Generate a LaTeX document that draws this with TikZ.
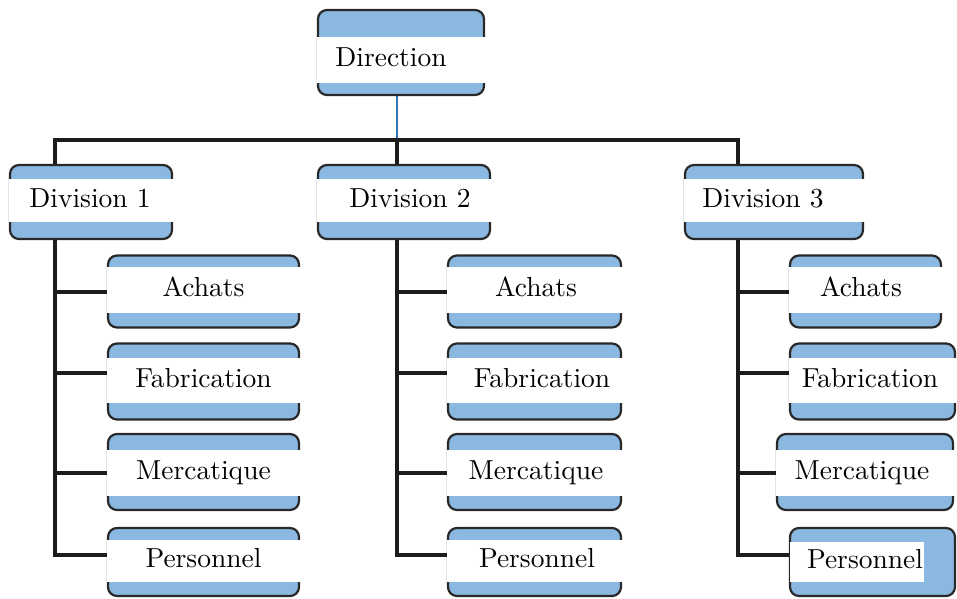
\documentclass[tikz,border=0pt]{standalone}
\pgfdeclarelayer{bg}
\pgfsetlayers{bg,main}

\definecolor{unitblue}{RGB}{138,184,224}
\definecolor{unitedge}{RGB}{40,40,40}
\definecolor{linkblue}{RGB}{46,117,182}
\definecolor{linkdark}{RGB}{28,28,28}

\tikzset{
  unitbox/.style={draw=unitedge, line width=2.2pt, fill=unitblue,
    rounded corners=9pt, inner sep=0pt},
  unitband/.style={fill=white, inner sep=0pt},
  unitlabel/.style={font=\fontsize{10}{12}\selectfont, scale=2.75, inner sep=0pt,
    text height=6.5pt, text depth=1.5pt},
  link/.style={draw=linkdark, line width=4pt},
  toplink/.style={draw=linkblue, line width=1.6pt},
}

% #1 name, #2 #3 box centre, #4 width, #5 height,
% #6 band centre y, #7 band height, #8 label centre x, #9 label
\newcommand\orgbox[9]{%
  \node[unitbox, minimum width=#4, minimum height=#5] (#1) at (#2,#3) {};
  \node[unitband, minimum width=#4+3, minimum height=#7] (#1-band) at (#2,#6) {};
  \node[unitlabel] (#1-label) at (#8,#6) {#9};
}

\begin{document}
\begin{tikzpicture}[x=1pt, y=-1pt]
\useasboundingbox (0,0) rectangle (957,598);

% management
\orgbox{dir}{401}{52.5}{166}{85}{60}{46}{391}{Direction}

% divisions
\orgbox{d1}{91}{202}{162}{74}{200.5}{43}{90}{Division 1}
\orgbox{d2}{404}{202}{172}{74}{200.5}{43}{410}{Division 2}
\orgbox{d3}{774}{202}{178}{74}{200.5}{43}{763}{Division 3}

% departments of division 1
\orgbox{a1}{203.5}{291.5}{191}{72}{290}{46}{203.5}{Achats}
\orgbox{f1}{203.5}{381.5}{191}{76}{380.5}{45}{203.5}{Fabrication}
\orgbox{m1}{203.5}{472}{191}{76}{473}{46}{203.5}{Mercatique}
\orgbox{p1}{203.5}{562}{191}{68}{561}{42}{203.5}{Personnel}

% departments of division 2
\orgbox{a2}{534.5}{291.5}{173}{72}{290}{46}{536}{Achats}
\orgbox{f2}{534.5}{381.5}{173}{76}{380.5}{45}{542}{Fabrication}
\orgbox{m2}{534.5}{472}{173}{76}{473}{46}{536}{Mercatique}
\orgbox{p2}{534.5}{562}{173}{68}{561}{42}{537}{Personnel}

% departments of division 3
\orgbox{a3}{865.5}{291.5}{151}{72}{290}{46}{861}{Achats}
\orgbox{f3}{872.5}{381.5}{165}{76}{380.5}{45}{870}{Fabrication}
\orgbox{m3}{865}{472}{176}{76}{473}{46}{862}{Mercatique}
\node[unitbox, minimum width=165, minimum height=68] (p3) at (872.5,562) {};
\node[unitband, minimum width=134, minimum height=40] (p3-band) at (857,561.5) {};
\node[unitlabel] (p3-label) at (865,561.5) {Personnel};

% junction points
\coordinate (j1) at (55,140);
\coordinate (j2) at (397,140);
\coordinate (j3) at (738,140);
\foreach \c/\x in {1/55, 2/397, 3/738} {
  \coordinate (ca\c) at (\x,292);
  \coordinate (cf\c) at (\x,373);
  \coordinate (cm\c) at (\x,473);
  \coordinate (cp\c) at (\x,555);
}

\begin{pgfonlayer}{bg}
  \draw[toplink] (dir.south -| j2) -- (j2);
  \draw[link, line join=miter] (j1 |- d1.north) -- (j1) -- (j3) -- (j3 |- d3.north);
  \draw[link] (j2) -- (j2 |- d2.north);
  \foreach \c in {1,2,3} {
    \draw[link, line join=miter] (d\c.south -| cp\c) -- (cp\c) -- (cp\c -| p\c.west);
    \draw[link] (ca\c) -- (ca\c -| a\c.west);
    \draw[link] (cf\c) -- (cf\c -| f\c.west);
    \draw[link] (cm\c) -- (cm\c -| m\c.west);
  }
\end{pgfonlayer}
\end{tikzpicture}
\end{document}
